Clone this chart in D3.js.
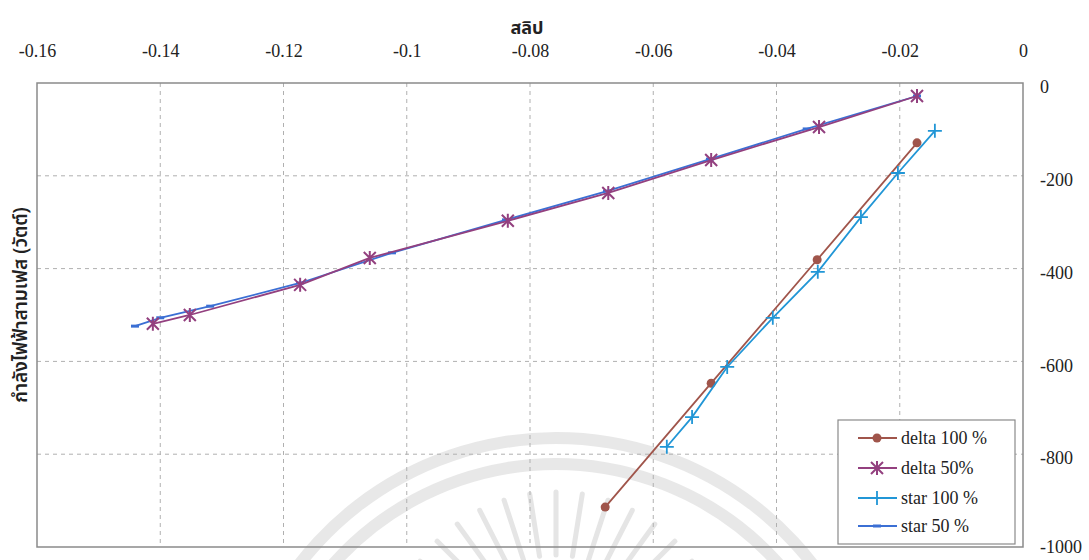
<!DOCTYPE html>
<html>
<head>
<meta charset="utf-8">
<script src="https://cdn.jsdelivr.net/npm/d3@7"></script>
<style>
  html, body { margin: 0; padding: 0; background: #fff; }
  svg { display: block; }
  .tick-label { font-family: "Liberation Serif", "Times New Roman", serif; font-size: 18px; fill: #222; }
  .thai { font-family: "Noto Sans Thai", "Tahoma", "Noto Sans", sans-serif; fill: #222; }
</style>
</head>
<body>
<svg id="chart" width="1089" height="560"></svg>
<script>
// Slip (x) versus three-phase power (y) for delta and star connections
const xTickValues = [-0.16, -0.14, -0.12, -0.1, -0.08, -0.06, -0.04, -0.02, 0];
const xTickLabels = ["-0.16", "-0.14", "-0.12", "-0.1", "-0.08", "-0.06", "-0.04", "-0.02", "0"];
const yTickValues = [0, -200, -400, -600, -800, -1000];
const yTickLabels = ["0", "-200", "-400", "-600", "-800", "-1000"];

const delta100Slip  = [-0.0172, -0.0334, -0.0506, -0.0678];
const delta100Power = [-129, -381, -647, -914];

const delta50Slip  = [-0.0172, -0.0331, -0.0506, -0.0673, -0.0836, -0.1060, -0.1173, -0.1352, -0.1412];
const delta50Power = [-28, -95, -166, -237, -297, -377, -435, -500, -519];

const star100Slip  = [-0.0143, -0.0203, -0.0263, -0.0333, -0.0406, -0.0480, -0.0537, -0.0578];
const star100Power = [-103, -194, -289, -407, -506, -612, -720, -784];

const star50Slip  = [-0.0172, -0.0351, -0.0508, -0.0675, -0.0839, -0.1024, -0.1173, -0.1319, -0.1400, -0.1441];
const star50Power = [-28, -99, -164, -233, -295, -366, -431, -481, -506, -524];

const seriesNames = ["delta 100 %", "delta 50%", "star 100 %", "star 50 %"];

const series = [
  { name: seriesNames[0], xs: delta100Slip, ys: delta100Power, color: "#a0554b", marker: "circle" },
  { name: seriesNames[1], xs: delta50Slip,  ys: delta50Power,  color: "#93407f", marker: "asterisk" },
  { name: seriesNames[2], xs: star100Slip,  ys: star100Power,  color: "#2196d6", marker: "plus" },
  { name: seriesNames[3], xs: star50Slip,   ys: star50Power,   color: "#3b6fd4", marker: "dash" }
];

const svg = d3.select("#chart");
const plot = { left: 37, right: 1023, top: 83, bottom: 547 };

const x = d3.scaleLinear().domain([-0.16, 0]).range([plot.left, plot.right]);
const y = d3.scaleLinear().domain([0, -1000]).range([plot.top, plot.bottom]);

// faint emblem watermark behind the plot
const wm = svg.append("g").attr("opacity", 0.55);
const wmCx = 556, wmCy = 762;
[324, 298].forEach(r => {
  wm.append("path")
    .attr("d", d3.arc()({ innerRadius: r - 6, outerRadius: r + 6, startAngle: -Math.PI * 0.42, endAngle: Math.PI * 0.42 }))
    .attr("transform", `translate(${wmCx},${wmCy})`)
    .attr("fill", "#d6d6d6");
});
const rayCx = 556, rayCy = 660;
d3.range(-72, 73, 9).forEach(a => {
  const t = a * Math.PI / 180;
  wm.append("line")
    .attr("x1", rayCx + Math.sin(t) * 105).attr("y1", rayCy - Math.cos(t) * 105)
    .attr("x2", rayCx + Math.sin(t) * 168).attr("y2", rayCy - Math.cos(t) * 168)
    .attr("stroke", "#d0d0d0").attr("stroke-width", 5).attr("stroke-linecap", "round");
});

// gridlines
const grid = svg.append("g");
grid.selectAll("line.vx").data(xTickValues.slice(1, -1)).join("line")
  .attr("x1", d => x(d)).attr("x2", d => x(d))
  .attr("y1", plot.top).attr("y2", plot.bottom)
  .attr("stroke", "#b0b0b0").attr("stroke-width", 1).attr("stroke-dasharray", "4,4");
grid.selectAll("line.hy").data(yTickValues.slice(1, -1)).join("line")
  .attr("x1", plot.left).attr("x2", plot.right)
  .attr("y1", d => y(d)).attr("y2", d => y(d))
  .attr("stroke", "#b0b0b0").attr("stroke-width", 1).attr("stroke-dasharray", "4,4");

// plot frame
svg.append("rect")
  .attr("x", plot.left).attr("y", plot.top)
  .attr("width", plot.right - plot.left).attr("height", plot.bottom - plot.top)
  .attr("fill", "none").attr("stroke", "#8a8a8a").attr("stroke-width", 1.5);

// top x axis labels
const xAxis = d3.axisTop(x).tickValues(xTickValues)
  .tickFormat((d, i) => xTickLabels[i]).tickSize(0).tickPadding(0);
const gx = svg.append("g").attr("transform", `translate(0,51)`).call(xAxis);
gx.select(".domain").remove();
gx.selectAll("text").attr("class", "tick-label").attr("dy", "0.35em").attr("y", 0)
  .style("font-family", '"Liberation Serif", serif').style("font-size", "18px");

// right y axis labels
const yAxis = d3.axisRight(y).tickValues(yTickValues)
  .tickFormat((d, i) => yTickLabels[i]).tickSize(0).tickPadding(0);
const gy = svg.append("g").attr("transform", `translate(1040,4)`).call(yAxis);
gy.select(".domain").remove();
gy.selectAll("text").attr("class", "tick-label").attr("x", 0)
  .attr("dy", (d, i) => (i === yTickValues.length - 1 ? "0.1em" : "0.32em"))
  .style("font-family", '"Liberation Serif", serif').style("font-size", "18px");

// axis titles
svg.append("text").attr("class", "thai")
  .attr("x", 527).attr("y", 28).attr("text-anchor", "middle").attr("dy", "0.35em")
  .style("font-size", "18px").style("font-weight", "bold")
  .text("สลิป");
svg.append("text").attr("class", "thai")
  .attr("transform", "translate(20,305) rotate(-90)")
  .attr("text-anchor", "middle").attr("dy", "0.35em")
  .style("font-size", "19px").style("font-weight", "600")
  .text("กำลังไฟฟ้าสามเฟส (วัตต์)");

// marker drawing
function drawMarker(g, type, color) {
  if (type === "circle") {
    g.append("circle").attr("r", 4.5).attr("fill", color);
  } else if (type === "asterisk") {
    const s = 6;
    g.append("path")
      .attr("d", `M${-s},${-s}L${s},${s}M${-s},${s}L${s},${-s}M0,${-s - 1}L0,${s + 1}`)
      .attr("stroke", color).attr("stroke-width", 2).attr("fill", "none");
  } else if (type === "plus") {
    const s = 7;
    g.append("path")
      .attr("d", `M${-s},0L${s},0M0,${-s}L0,${s}`)
      .attr("stroke", color).attr("stroke-width", 1.8).attr("fill", "none");
  } else if (type === "dash") {
    g.append("rect").attr("x", -4).attr("y", -1.5).attr("width", 8).attr("height", 3).attr("fill", color);
  }
}

const line = d3.line().x(d => x(d[0])).y(d => y(d[1]));

const drawOrder = [0, 2, 3, 1];
drawOrder.forEach(i => {
  const s = series[i];
  const pts = s.xs.map((v, k) => [v, s.ys[k]]);
  svg.append("path").datum(pts)
    .attr("d", line).attr("fill", "none")
    .attr("stroke", s.color).attr("stroke-width", 1.8);
  pts.forEach(p => {
    const g = svg.append("g").attr("transform", `translate(${x(p[0])},${y(p[1])})`);
    drawMarker(g, s.marker, s.color);
  });
});

// legend
const legend = svg.append("g").attr("transform", "translate(838,420)");
legend.append("rect").attr("width", 177).attr("height", 124)
  .attr("fill", "#fff").attr("stroke", "#8a8a8a").attr("stroke-width", 1.2);
const rowY = [18, 48, 78, 106];
series.forEach((s, i) => {
  const row = legend.append("g").attr("transform", `translate(0,${rowY[i]})`);
  row.append("line").attr("x1", 20).attr("x2", 59).attr("y1", 0).attr("y2", 0)
    .attr("stroke", s.color).attr("stroke-width", 1.8);
  drawMarker(row.append("g").attr("transform", "translate(39,0)"), s.marker, s.color);
  row.append("text").attr("class", "tick-label").attr("x", 63).attr("y", 0).attr("dy", "0.35em")
    .text(s.name);
});
</script>
</body>
</html>
